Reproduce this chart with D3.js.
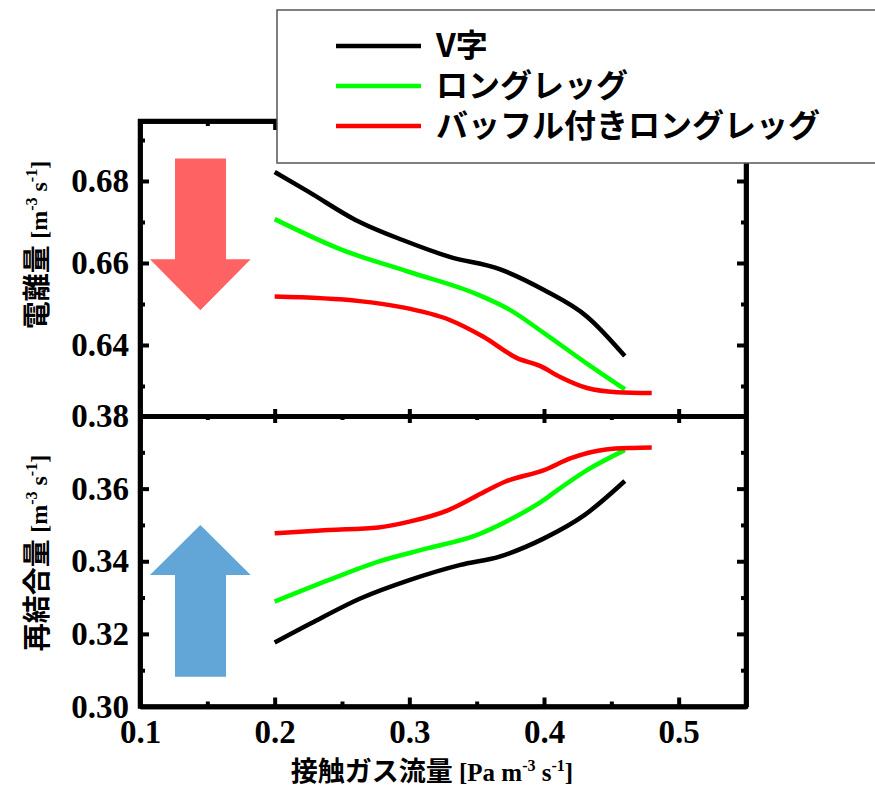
<!DOCTYPE html>
<html>
<head>
<meta charset="utf-8">
<script src="https://cdn.jsdelivr.net/npm/d3@7/dist/d3.min.js"></script>
<style>
  html, body { margin: 0; padding: 0; background: #fff; }
  svg { display: block; }
  .tick text { font-family: "Liberation Serif", "Times New Roman", serif; font-weight: bold; font-size: 33px; fill: #000; }
</style>
</head>
<body>
<svg id="chart" width="875" height="790"></svg>
<script>
// ---- data: contact gas flow vs. ionization / recombination rates ----
const seriesNames = ["V字", "ロングレッグ", "バッフル付きロングレッグ"];
const seriesColors = ["#000000", "#00ff00", "#ff0000"];

// 電離量 (upper panel)
const ionV_x   = [0.200, 0.225, 0.260, 0.295, 0.330, 0.367, 0.400, 0.432, 0.460];
const ionV_y   = [0.6822, 0.6774, 0.6705, 0.6656, 0.6615, 0.6585, 0.6534, 0.6469, 0.6373];
const ionL_x   = [0.200, 0.250, 0.300, 0.350, 0.375, 0.400, 0.430, 0.460];
const ionL_y   = [0.6707, 0.6632, 0.6578, 0.6524, 0.6485, 0.6429, 0.6359, 0.6292];
const ionB_x   = [0.200, 0.263, 0.293, 0.330, 0.355, 0.380, 0.397, 0.412, 0.432, 0.454, 0.480];
const ionB_y   = [0.6518, 0.6507, 0.6493, 0.6461, 0.6420, 0.6368, 0.6349, 0.6322, 0.6295, 0.6285, 0.6283];

// 再結合量 (lower panel)
const recV_x   = [0.200, 0.227, 0.264, 0.300, 0.338, 0.367, 0.400, 0.430, 0.460];
const recV_y   = [0.3176, 0.3229, 0.3298, 0.3348, 0.3390, 0.3413, 0.3463, 0.3527, 0.3621];
const recL_x   = [0.200, 0.240, 0.277, 0.314, 0.350, 0.3745, 0.400, 0.410, 0.432, 0.460];
const recL_y   = [0.3289, 0.3348, 0.3399, 0.3436, 0.3472, 0.3514, 0.3569, 0.3596, 0.3651, 0.3706];
const recB_x   = [0.200, 0.240, 0.277, 0.300, 0.329, 0.349, 0.371, 0.400, 0.420, 0.446, 0.466, 0.480];
const recB_y   = [0.3477, 0.3486, 0.3493, 0.3509, 0.3541, 0.3578, 0.3619, 0.3651, 0.3684, 0.3708, 0.3712, 0.3713];

// axis ticks
const xMajor = [0.1, 0.2, 0.3, 0.4, 0.5];
const xMinor = [0.15, 0.25, 0.35, 0.45];
const topMajor = [0.68, 0.66, 0.64];
const topMinor = [0.69, 0.67, 0.65, 0.63];
const botMajor = [0.38, 0.36, 0.34, 0.32, 0.30];
const botMinor = [0.37, 0.35, 0.33, 0.31];

// trend arrows (data coordinates): [x left, x shaft left, x shaft right, x right]
const arrowX = [0.1074, 0.126, 0.1639, 0.1822];
const downArrowY = [0.6855, 0.6609, 0.6485];   // shaft top, head base, tip
const upArrowY = [0.3082, 0.3362, 0.3500];      // shaft bottom, head base, tip

// ---- layout ----
const svg = d3.select("#chart");
const x = d3.scaleLinear().domain([0.1, 0.55]).range([140, 746]);
const yTop = d3.scaleLinear().domain([0.62268, 0.69463]).range([416, 121]);
const yBot = d3.scaleLinear().domain([0.30, 0.38]).range([706.5, 416]);

const fmt = d3.format(".2f");
const fmt1 = d3.format(".1f");

// arrows
function arrowPath(ys, yScale) {
  const [xl, xs1, xs2, xr] = arrowX.map(x);
  const [y0, yb, yt] = ys.map(yScale);
  const xc = (xl + xr) / 2;
  return `M${xs1},${y0}L${xs2},${y0}L${xs2},${yb}L${xr},${yb}L${xc},${yt}L${xl},${yb}L${xs1},${yb}Z`;
}
svg.append("path").attr("d", arrowPath(downArrowY, yTop)).attr("fill", "#ff6262");
svg.append("path").attr("d", arrowPath(upArrowY, yBot)).attr("fill", "#62a5d7");

// curves
const line = (yScale) => d3.line().x(d => x(d[0])).y(d => yScale(d[1])).curve(d3.curveMonotoneX);
const zip = (a, b) => a.map((v, i) => [v, b[i]]);
const topSeries = [zip(ionV_x, ionV_y), zip(ionL_x, ionL_y), zip(ionB_x, ionB_y)];
const botSeries = [zip(recV_x, recV_y), zip(recL_x, recL_y), zip(recB_x, recB_y)];
topSeries.forEach((s, i) => svg.append("path").attr("d", line(yTop)(s))
  .attr("fill", "none").attr("stroke", seriesColors[i]).attr("stroke-width", 4.5));
botSeries.forEach((s, i) => svg.append("path").attr("d", line(yBot)(s))
  .attr("fill", "none").attr("stroke", seriesColors[i]).attr("stroke-width", 4.5));

// axes
function styleAxis(g) {
  g.selectAll(".domain").attr("stroke", "#000").attr("stroke-width", 4.5);
  g.selectAll(".tick line").attr("stroke", "#000").attr("stroke-width", 4);
}
// left axes with labels
svg.append("g").attr("transform", "translate(140,0)")
  .call(d3.axisLeft(yTop).tickValues(topMajor).tickFormat(fmt).tickSizeInner(-9).tickSizeOuter(0).tickPadding(11))
  .call(styleAxis);
svg.append("g").attr("transform", "translate(140,0)")
  .call(d3.axisLeft(yTop).tickValues(topMinor).tickFormat("").tickSizeInner(-5).tickSizeOuter(0))
  .call(styleAxis);
svg.append("g").attr("transform", "translate(140,0)")
  .call(d3.axisLeft(yBot).tickValues(botMajor).tickFormat(fmt).tickSizeInner(-9).tickSizeOuter(0).tickPadding(11))
  .call(styleAxis);
svg.append("g").attr("transform", "translate(140,0)")
  .call(d3.axisLeft(yBot).tickValues(botMinor).tickFormat("").tickSizeInner(-5).tickSizeOuter(0))
  .call(styleAxis);
// right axes (ticks only)
[[yTop, topMajor, topMinor], [yBot, botMajor, botMinor]].forEach(([ys, ma, mi]) => {
  svg.append("g").attr("transform", "translate(746,0)")
    .call(d3.axisRight(ys).tickValues(ma).tickFormat("").tickSizeInner(-9).tickSizeOuter(0)).call(styleAxis);
  svg.append("g").attr("transform", "translate(746,0)")
    .call(d3.axisRight(ys).tickValues(mi).tickFormat("").tickSizeInner(-5).tickSizeOuter(0)).call(styleAxis);
});
// bottom axis
svg.append("g").attr("transform", "translate(0,706.5)")
  .call(d3.axisBottom(x).tickValues(xMajor).tickFormat(fmt1).tickSizeInner(-9).tickSizeOuter(0).tickPadding(13))
  .call(styleAxis);
svg.append("g").attr("transform", "translate(0,706.5)")
  .call(d3.axisBottom(x).tickValues(xMinor).tickFormat("").tickSizeInner(-5).tickSizeOuter(0))
  .call(styleAxis);
// panel divider: ticks on both sides
svg.append("g").attr("transform", "translate(0,416)")
  .call(d3.axisBottom(x).tickValues(xMajor).tickFormat("").tickSizeInner(7).tickSizeOuter(0))
  .call(styleAxis);
svg.append("g").attr("transform", "translate(0,416)")
  .call(d3.axisTop(x).tickValues(xMajor).tickFormat("").tickSizeInner(7).tickSizeOuter(0))
  .call(styleAxis);
svg.append("g").attr("transform", "translate(0,416)")
  .call(d3.axisBottom(x).tickValues(xMinor).tickFormat("").tickSizeInner(4).tickSizeOuter(0))
  .call(styleAxis);
// top border
svg.append("g").attr("transform", "translate(0,121)")
  .call(d3.axisTop(x).tickValues(xMajor).tickFormat("").tickSizeInner(-9).tickSizeOuter(0))
  .call(styleAxis);
svg.append("g").attr("transform", "translate(0,121)")
  .call(d3.axisTop(x).tickValues(xMinor).tickFormat("").tickSizeInner(-5).tickSizeOuter(0))
  .call(styleAxis);
// square the frame corners
svg.append("rect").attr("x", x(0.1)).attr("y", yTop.range()[1]).attr("width", x(0.55) - x(0.1))
  .attr("height", yBot.range()[0] - yTop.range()[1])
  .attr("fill", "none").attr("stroke", "#000").attr("stroke-width", 4.5).attr("stroke-linejoin", "miter");

// axis titles
const cjk = '"Noto Sans CJK JP", "Noto Sans CJK SC", sans-serif';
const serif = '"Liberation Serif", "Times New Roman", serif';
function unitTitle(g, prefix, unitParts, cjkSize, unitSize) {
  const t = g.append("text").attr("text-anchor", "middle").attr("fill", "#000");
  t.append("tspan").text(prefix).attr("font-family", cjk).attr("font-weight", 700).attr("font-size", cjkSize);
  unitParts.forEach(([txt, sup]) => {
    t.append("tspan").text(txt).attr("font-family", serif).attr("font-weight", 700)
      .attr("font-size", sup ? 16 : unitSize)
      .attr("baseline-shift", sup ? "60%" : null);
  });
  return t;
}
unitTitle(svg.append("g").attr("transform", "translate(47,245) rotate(-90)"), "電離量 ",
  [["[m", false], ["-3", true], [" s", false], ["-1", true], ["]", false]], 28, 24);
unitTitle(svg.append("g").attr("transform", "translate(47,553) rotate(-90)"), "再結合量 ",
  [["[m", false], ["-3", true], [" s", false], ["-1", true], ["]", false]], 28, 24);
unitTitle(svg.append("g").attr("transform", "translate(432,781)"), "接触ガス流量 ",
  [["[Pa m", false], ["-3", true], [" s", false], ["-1", true], ["]", false]], 27, 25);

// legend
const leg = svg.append("g");
leg.append("rect").attr("x", 277).attr("y", 10).attr("width", 620).attr("height", 153)
  .attr("fill", "#fff").attr("stroke", "#555").attr("stroke-width", 1.5);
seriesNames.forEach((name, i) => {
  const yy = 46 + i * 40;
  leg.append("line").attr("x1", 336).attr("x2", 421).attr("y1", yy).attr("y2", yy)
    .attr("stroke", seriesColors[i]).attr("stroke-width", 4.5);
  leg.append("text").attr("x", 436).attr("y", yy + 11).text(name)
    .attr("font-family", cjk).attr("font-weight", 700).attr("font-size", 32).attr("fill", "#000");
});
</script>
</body>
</html>
